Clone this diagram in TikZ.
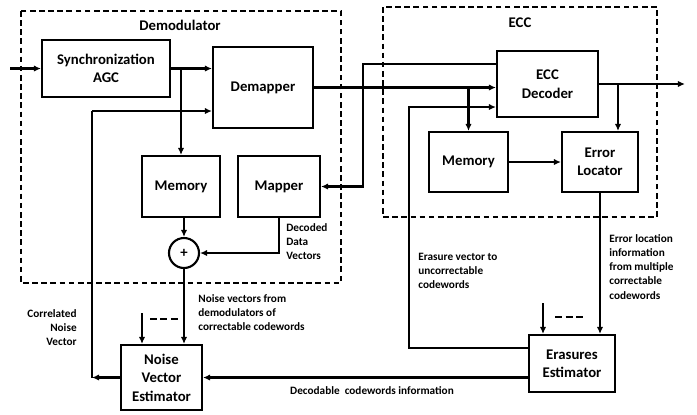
\documentclass[tikz,border=0pt]{standalone}
\usepackage{fontspec}
\setmainfont{Carlito}
\usetikzlibrary{arrows.meta}
\tikzset{
  blk/.style={draw, line width=1.2pt, align=center, inner sep=1pt, font=\bfseries\fontsize{8.4}{10.5}\selectfont},
  ttl/.style={align=center, inner sep=1pt, font=\bfseries\fontsize{8.4}{10.5}\selectfont},
  lbl/.style={align=left, inner sep=0pt, font=\bfseries\fontsize{6.4}{8}\selectfont},
  grp/.style={draw, line width=1.3pt, dash pattern=on 3.2pt off 2pt},
  arr/.style={-{Latex[length=4pt,width=3.6pt]}, line width=1.15pt},
  bold/.style={line width=1.6pt},
  dots/.style={line width=1.2pt, dash pattern=on 0.14cm off 0.07cm},
}
\begin{document}
\begin{tikzpicture}[x=0.02cm, y=-0.02cm]
	\useasboundingbox (0,0) rectangle (697,414);
	% Khung Demodulator va ECC
	\draw[grp] (21,11) rectangle (341,283);
	\draw[grp] (383,7) rectangle (657,217);
	\node[ttl] (demodttl) at (180,25) {Demodulator};
	\node[ttl] (eccttl) at (520,23) {ECC};
	% Cac khoi
	\node[blk, minimum width=2.56cm, minimum height=1.14cm] (sync) at (106,68.5) {Synchronization\\AGC};
	\node[blk, minimum width=2cm, minimum height=1.62cm] (demap) at (263,87.5) {Demapper};
	\node[blk, minimum width=1.56cm, minimum height=1.22cm] (memA) at (181,186.5) {Memory};
	\node[blk, minimum width=1.64cm, minimum height=1.22cm] (mapper) at (279,186.5) {Mapper};
	\node[blk, circle, minimum size=0.6cm, inner sep=0pt] (sum) at (184,253) {+};
	\node[blk, minimum width=1.62cm, minimum height=1.3cm] (nve) at (161.5,377.5) {Noise\\Vector\\Estimator};
	\node[blk, minimum width=2.02cm, minimum height=1.32cm] (eccdec) at (547.5,84) {ECC\\Decoder};
	\node[blk, minimum width=1.58cm, minimum height=1.2cm] (memB) at (468.5,162) {Memory};
	\node[blk, minimum width=1.52cm, minimum height=1.2cm] (errloc) at (600,162) {Error\\Locator};
	\node[blk, minimum width=1.72cm, minimum height=1.14cm] (eras) at (572,363.5) {Erasures\\Estimator};
	% Cac diem goc
	\coordinate (in) at (10,68.5);
	\coordinate (out) at (685,84);
	\coordinate (fbL) at (92,377.5);
	\coordinate (fbT) at (92,111);
	\coordinate (fbM) at (363,64);
	\coordinate (fbE) at (409,348);
	\coordinate (fbD) at (409,107);
	\coordinate (nvin) at (142,313);
	\coordinate (erin) at (543,303);
	\coordinate (elin) at ([xshift=0.36cm]errloc.north);
	% Duong noi trong Demodulator
	\draw[arr] (in) -- (sync.west);
	\draw[arr] (sync.east) -- (demap.west |- sync.east);
	\draw[arr] (memA.north |- sync.east) -- (memA.north);
	\draw[arr] (sum.north |- memA.south) -- (sum.north);
	\draw[arr] (mapper.south) -- (mapper.south |- sum.east) -- (sum.east);
	\draw[arr] (sum.south) -- (sum.south |- nve.north);
	\draw[arr] (nvin) -- (nvin |- nve.north);
	\draw[dots] (150,319) -- (178,319);
	% Vong hoi tiep ve Demapper
	\draw[arr, bold] (nve.west) -- (fbL);
	\draw[bold] (fbL) -- (fbT);
	\draw[arr] (fbT) -- (demap.west |- fbT);
	% Duong noi trong ECC
	\draw[arr] (demap.east) -- (eccdec.west |- demap.east);
	\draw[arr] (memB.north |- demap.east) -- (memB.north);
	\draw[arr] (eccdec.east) -- (out);
	\draw[arr] (elin |- eccdec.east) -- (elin);
	\draw[arr] (memB.east) -- (errloc.west);
	\draw[arr] (errloc.south) -- (errloc.south |- eras.north);
	\draw[arr] (erin) -- (erin |- eras.north);
	\draw[dots] (555,317) -- (583,317);
	% Duong dam hoi tiep
	\draw[arr, bold] (eccdec.west |- fbM) -- (fbM) -- (fbM |- mapper.east) -- (mapper.east);
	\draw[arr, bold] (eras.west |- fbE) -- (fbE) -- (fbD) -- (eccdec.west |- fbD);
	\draw[arr, bold] (eras.west |- nve.east) -- (nve.east);
	% Nhan
	\node[lbl, anchor=west] (ddv) at (286,242) {Decoded\\Data\\Vectors};
	\node[lbl, anchor=west] (nvlbl) at (198,313) {Noise vectors from\\demodulators of\\correctable codewords};
	\node[lbl, anchor=east, align=right] (cnv) at (77,328) {Correlated\\Noise\\Vector};
	\node[lbl] (dci) at (372,391) {Decodable~~codewords information};
	\node[lbl, anchor=west] (evl) at (418,271) {Erasure vector to\\uncorrectable\\codewords};
	\node[lbl, anchor=west] (ell) at (609,267) {Error location\\information\\from multiple\\correctable\\codewords};
\end{tikzpicture}
\end{document}
